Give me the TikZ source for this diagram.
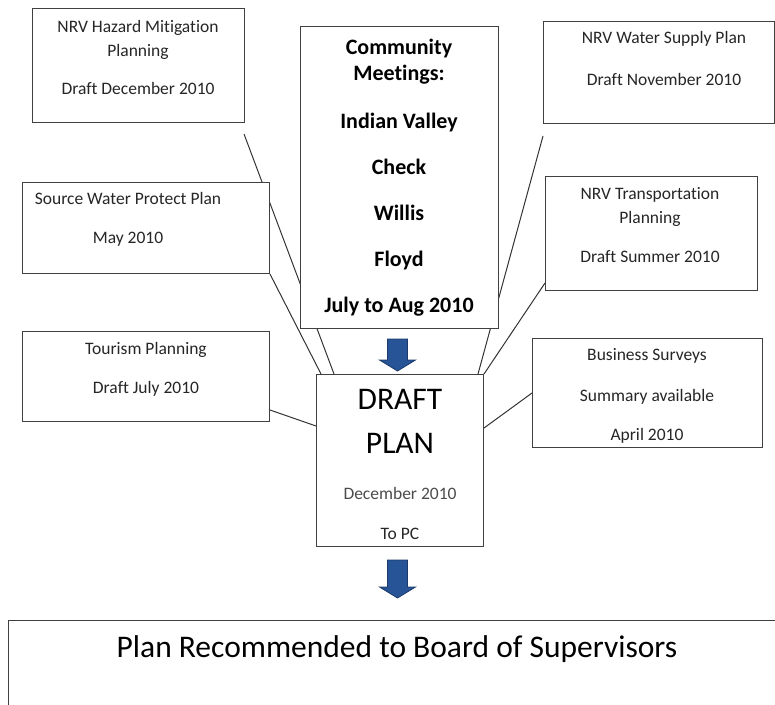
\documentclass[tikz,border=0pt]{standalone}
\usepackage{fontspec}
\setmainfont{Carlito}[Ligatures=NoCommon]
\usetikzlibrary{calc,backgrounds}

\definecolor{arrowblue}{RGB}{38,84,150}
\definecolor{arrowedge}{RGB}{28,58,105}

% block arrow pointing down: centre x, top, tip
\newcommand{\blockdown}[3]{%
  \filldraw[blockarrow] (#1-10,#2) -- (#1+10,#2) -- (#1+10,#3-11)
    -- (#1+18,#3-11) -- (#1,#3) -- (#1-18,#3-11) -- (#1-10,#3-11) -- cycle;}

\begin{document}
\begin{tikzpicture}[x=1pt,y=-1pt,
    box/.style={draw=black!75,line width=1pt,fill=white,anchor=north west,inner sep=0pt},
    note/.style={align=center,text=black!85,font=\fontsize{17.5}{24}\selectfont,anchor=base,inner sep=0pt},
    meet/.style={align=center,font=\bfseries\fontsize{22}{26}\selectfont,anchor=base,inner sep=0pt},
    big/.style={align=center,font=\fontsize{31.5}{44}\selectfont,anchor=base,inner sep=0pt},
    link/.style={draw=black!80,line width=1pt},
    blockarrow/.style={fill=arrowblue,draw=arrowedge,line width=0.8pt,line join=miter}]
\useasboundingbox (0,0) rectangle (775,704);
\clip (0,0) rectangle (775,704);

% boxes
\node[box,minimum width=212pt,minimum height=114pt] (hazard) at (32,8) {};
\node[box,minimum width=198pt,minimum height=302pt] (meetings) at (300,26) {};
\node[box,minimum width=231pt,minimum height=102pt] (water) at (543,21) {};
\node[box,minimum width=247pt,minimum height=91pt] (source) at (22,182) {};
\node[box,minimum width=212pt,minimum height=114pt] (transport) at (545,176) {};
\node[box,minimum width=247pt,minimum height=90pt] (tourism) at (22,331) {};
\node[box,minimum width=230pt,minimum height=109pt] (business) at (532,338) {};
\node[box,minimum width=167pt,minimum height=172pt] (draft) at (316,374) {};
\node[box,minimum width=800pt,minimum height=120pt] (board) at (8,620) {};

% texts, placed by the baseline of their last line
\node[note] (hazardText) at (138,94) {NRV Hazard Mitigation\\Planning\\[14pt]Draft December 2010};
\node[meet] (meetingsText) at (399,312) {Community\\Meetings:\\[22pt]Indian Valley\\[20pt]Check\\[20pt]Willis\\[20pt]Floyd\\[20pt]July to Aug 2010};
\node[note] (waterText) at (664,85) {NRV Water Supply Plan\\[18pt]Draft November 2010};
\node[note] (sourceText) at (128,243) {Source Water Protect Plan\\[15pt]May 2010};
\node[note] (transportText) at (650,262) {NRV Transportation\\Planning\\[15pt]Draft Summer 2010};
\node[note] (tourismText) at (146,393) {Tourism Planning\\[15pt]Draft July 2010};
\node[note] (businessText) at (647,440) {Business Surveys\\[17pt]Summary available\\[15pt]April 2010};
\node[big] (draftTitle) at (400,453) {DRAFT\\PLAN};
\node[note] (draftText) at (400,539) {{\color{black!70}December 2010}\\[16pt]To PC};
\node[big] (boardText) at (397,657) {Plan Recommended to Board of Supervisors};

% feeder lines, behind the boxes
\begin{scope}[on background layer]
\draw[link] ($(hazard.south east)+(-1,11)$) -- ($(draft.north west)+(18,0)$);
\draw[link] (source.south east) -- ($(draft.north west)+(5,0)$);
\draw[link] ($(tourism.south east)+(0,-12)$) -- ($(draft.north west)+(0,52)$);
\draw[link] ($(water.south west)+(0,12)$) -- ($(draft.north east)+(-6,0)$);
\draw[link] ($(transport.south west)+(0,-8)$) -- (draft.north east);
\draw[link] (business.west) -- ($(draft.north east)+(0,54)$);
\end{scope}

\blockdown{397.5}{339}{371}
\blockdown{397.5}{560}{598}
\end{tikzpicture}
\end{document}
